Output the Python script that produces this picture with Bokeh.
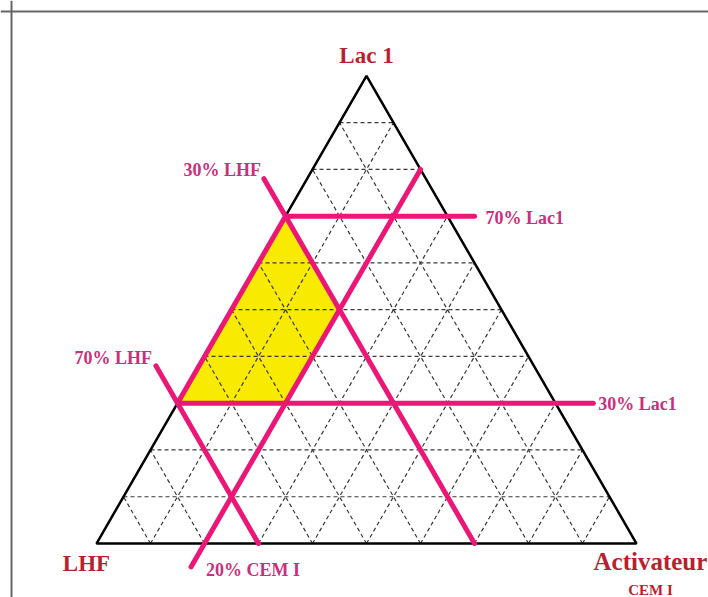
import math
from bokeh.plotting import figure
from bokeh.models import Range1d, Span
from bokeh.core.properties import value
from bokeh.embed import file_html
from bokeh.resources import INLINE

# ---- data (ternary: Lac 1 = top, LHF = bottom-left, Activateur = bottom-right) ----
grid_levels = [0.1, 0.2, 0.3, 0.4, 0.5, 0.6, 0.7, 0.8, 0.9]

# selected region (Lac1, Activateur fractions; LHF = 1 - Lac1 - Act)
region_lac = [0.7, 0.5, 0.3, 0.3]
region_act = [0.0, 0.2, 0.2, 0.0]

# pink limit lines (start / end in Lac1, Activateur fractions)
limit_names = ["70% Lac1", "30% Lac1", "30% LHF", "70% LHF", "20% CEM I", "edge"]
limit_start_lac = [0.70, 0.30, 0.00, 0.00, -0.05, 0.30]
limit_start_act = [0.00, 0.00, 0.70, 0.30, 0.20, 0.00]
limit_end_lac = [0.70, 0.30, 0.78, 0.38, 0.80, 0.70]
limit_end_act = [0.35, 0.77, -0.08, -0.08, 0.20, 0.00]

H = math.sqrt(3) / 2


def tx(lac, act):
    return act + lac / 2.0


def ty(lac):
    return lac * H


RED = "#b81f2f"
PINK_LINE = "#ec1677"
PINK_TEXT = "#c9307d"
FONT = value("Liberation Serif")

p = figure(width=708, height=597,
           x_range=Range1d(-0.17778, 1.13333), y_range=Range1d(-0.1, 1.00556),
           x_axis_type=None, y_axis_type=None,
           output_backend="svg", toolbar_location=None, min_border=0)
p.grid.visible = False
p.outline_line_color = None
p.background_fill_color = "white"

# frame
p.add_layout(Span(location=-0.1574, dimension="height", line_color="#666666", line_width=2))
p.add_layout(Span(location=0.98519, dimension="width", line_color="#666666", line_width=2))

# yellow region
p.patch([tx(l, a) for l, a in zip(region_lac, region_act)],
        [ty(l) for l in region_lac], fill_color="#f8ea00", line_color=None)

# dashed grid
gx, gy = [], []
for f in grid_levels:
    # constant Lac1
    gx.append([tx(f, 0), tx(f, 1 - f)]); gy.append([ty(f), ty(f)])
    # constant LHF
    gx.append([tx(0, 1 - f), tx(1 - f, 0)]); gy.append([ty(0), ty(1 - f)])
    # constant Activateur
    gx.append([tx(0, f), tx(1 - f, f)]); gy.append([ty(0), ty(1 - f)])
p.multi_line(gx, gy, line_color="#3a3a3a", line_width=1.2, line_dash="4 3")

# triangle outline
p.patch([tx(1, 0), tx(0, 0), tx(0, 1)], [ty(1), ty(0), ty(0)],
        fill_color=None, line_color="black", line_width=2.5)

# pink lines
px = [[tx(sl, sa), tx(el, ea)] for sl, sa, el, ea in
      zip(limit_start_lac, limit_start_act, limit_end_lac, limit_end_act)]
py = [[ty(sl), ty(el)] for sl, el in zip(limit_start_lac, limit_end_lac)]
p.multi_line(px, py, line_color=PINK_LINE, line_width=5, line_cap="round")

# pink labels
lbl = {
    "70% Lac1": dict(pt=(limit_end_lac[0], limit_end_act[0]), align="left", dx=11, dy=2),
    "30% Lac1": dict(pt=(limit_end_lac[1], limit_end_act[1]), align="left", dx=5, dy=1),
    "30% LHF": dict(pt=(limit_end_lac[2], limit_end_act[2]), align="right", dx=-3, dy=-9),
    "70% LHF": dict(pt=(limit_end_lac[3], limit_end_act[3]), align="right", dx=-4, dy=-8),
    "20% CEM I": dict(pt=(limit_start_lac[4], limit_start_act[4]), align="left", dx=15, dy=3),
}
for name, d in lbl.items():
    l, a = d["pt"]
    p.text(x=[tx(l, a)], y=[ty(l)], text=[name], text_font=FONT, text_font_style="bold",
           text_font_size="18px", text_color=PINK_TEXT, text_align=d["align"],
           text_baseline="middle", x_offset=d["dx"], y_offset=d["dy"])

# corner labels
corner_lac = [1.0, 0.0, 0.0]
corner_act = [0.0, 0.0, 1.0]
p.text(x=[tx(corner_lac[0], corner_act[0])], y=[ty(corner_lac[0])], text=["Lac 1"],
       text_font=FONT, text_font_style="bold", text_font_size="23px", text_color=RED,
       text_align="center", text_baseline="middle", y_offset=-20)
p.text(x=[tx(corner_lac[1], corner_act[1])], y=[ty(corner_lac[1])], text=["LHF"],
       text_font=FONT, text_font_style="bold", text_font_size="23px", text_color=RED,
       text_align="center", text_baseline="middle", x_offset=-10, y_offset=20)
p.text(x=[tx(corner_lac[2], corner_act[2])], y=[ty(corner_lac[2])], text=["Activateur"],
       text_font=FONT, text_font_style="bold", text_font_size="25px", text_color=RED,
       text_align="left", text_baseline="middle", x_offset=-43, y_offset=18)
p.text(x=[tx(corner_lac[2], corner_act[2])], y=[ty(corner_lac[2])], text=["CEM I"],
       text_font=FONT, text_font_style="bold", text_font_size="15px", text_color=RED,
       text_align="center", text_baseline="middle", x_offset=14, y_offset=46)

open("out.html", "w").write(file_html(p, INLINE))
